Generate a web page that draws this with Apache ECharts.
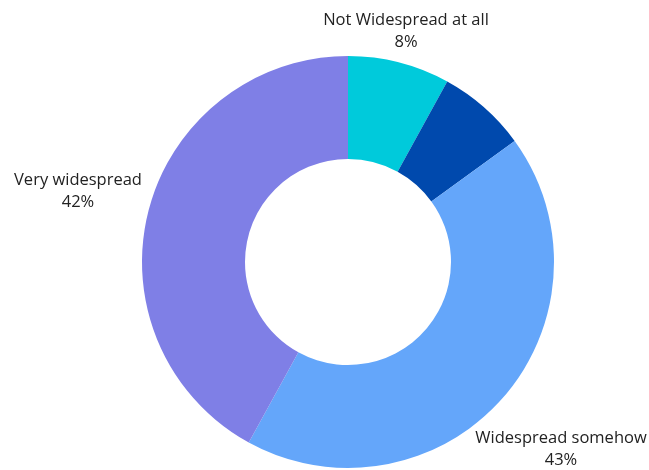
<!DOCTYPE html>
<html>
<head>
<meta charset="utf-8">
<script src="https://cdn.jsdelivr.net/npm/echarts@6/dist/echarts.min.js"></script>
<style>
  html, body { margin: 0; padding: 0; background: #ffffff; }
  #chart { width: 649px; height: 470px; }
</style>
</head>
<body>
<div id="chart"></div>
<script>
// How widespread the issue is perceived to be (share of responses, %)
const categories = ['Not Widespread at all', 'Somewhat not widespread', 'Widespread somehow', 'Very widespread'];
const shares = [8, 7, 43, 42];
const sliceColors = ['#00CADB', '#0049AD', '#64A6FA', '#7F7FE6'];
const showLabel = [true, false, true, true];

// Label anchor points (centre of each two-line label block)
const labelSpots = [[406, 31], null, [561, 449], [78, 191]];

const chart = echarts.init(document.getElementById('chart'), null, { renderer: 'canvas' });

chart.setOption({
  animation: false,
  backgroundColor: '#ffffff',
  series: [{
    type: 'pie',
    center: [348, 262],
    radius: [103, 206],
    startAngle: 90,
    clockwise: true,
    silent: true,
    label: {
      show: true,
      position: 'outside',
      formatter: '{b}\n{d}%',
      fontFamily: '"Open Sans", sans-serif',
      fontSize: 16.5,
      lineHeight: 22,
      color: '#222222',
      align: 'center',
      overflow: 'none',
      width: 300
    },
    labelLine: { show: false },
    labelLayout: function (params) {
      const spot = labelSpots[params.dataIndex];
      if (!spot) return {};
      return { x: spot[0], y: spot[1], align: 'center', verticalAlign: 'middle' };
    },
    data: categories.map((name, i) => ({
      name: name,
      value: shares[i],
      itemStyle: { color: sliceColors[i] },
      label: { show: showLabel[i] }
    }))
  }]
});
</script>
</body>
</html>
